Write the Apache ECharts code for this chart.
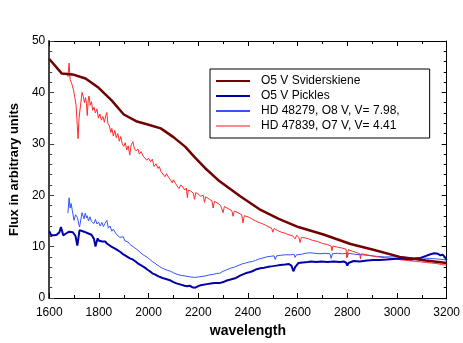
<!DOCTYPE html>
<html>
<head>
<meta charset="utf-8">
<script src="https://cdn.jsdelivr.net/npm/echarts@6/dist/echarts.min.js"></script>
<style>
  html, body { margin: 0; padding: 0; background: #fff; }
  #container { width: 463px; height: 343px; }
</style>
</head>
<body>
<div id="container"></div>
<script>
// O5 V Sviderskiene
const svidWave = [1600, 1650, 1694, 1746, 1799, 1852, 1900, 1950, 2000, 2049, 2100, 2148, 2187, 2227, 2286, 2366, 2445, 2524, 2603, 2707, 2813, 2905, 3011, 3117, 3200]
const svidFlux = [46.5, 43.7, 43.5, 42.7, 40.9, 38.4, 35.7, 34.4, 33.7, 33.0, 31.3, 29.4, 27.3, 25.3, 22.7, 19.9, 17.3, 15.4, 13.8, 12.3, 10.5, 9.4, 8.0, 7.3, 6.8]

// O5 V Pickles
const pickWave = [1600, 1608, 1615, 1621, 1630, 1641, 1647, 1652, 1656, 1660, 1666, 1672, 1680, 1688, 1695, 1700, 1706, 1710, 1713, 1717, 1722, 1730, 1740, 1746, 1755, 1762, 1770, 1775, 1780, 1786, 1790, 1795, 1799, 1806, 1812, 1818, 1825, 1832, 1840, 1850, 1858, 1865, 1875, 1885, 1895, 1905, 1915, 1925, 1935, 1945, 1955, 1965, 1975, 1985, 1996, 2005, 2015, 2025, 2040, 2056, 2070, 2089, 2100, 2115, 2130, 2145, 2155, 2165, 2175, 2188, 2200, 2210, 2221, 2235, 2250, 2265, 2286, 2300, 2315, 2330, 2352, 2370, 2390, 2405, 2418, 2435, 2450, 2465, 2484, 2500, 2515, 2530, 2550, 2565, 2575, 2583, 2590, 2603, 2620, 2640, 2655, 2675, 2695, 2720, 2745, 2770, 2786, 2795, 2800, 2805, 2825, 2850, 2880, 2905, 2930, 2960, 2985, 3011, 3040, 3060, 3077, 3095, 3117, 3135, 3150, 3165, 3175, 3185, 3192, 3200]
const pickFlux = [13.0, 12.2, 12.0, 12.2, 12.3, 12.8, 13.8, 13.0, 12.2, 11.9, 12.5, 12.3, 12.9, 13.1, 12.8, 12.8, 12.0, 11.0, 10.2, 11.5, 13.2, 13.0, 12.9, 12.8, 12.6, 12.7, 12.3, 12.5, 11.5, 10.0, 10.8, 11.6, 11.2, 11.3, 11.0, 11.2, 11.0, 10.6, 10.4, 10.0, 9.8, 9.6, 9.3, 9.0, 8.6, 8.3, 8.0, 7.7, 7.5, 7.2, 6.8, 6.5, 6.2, 5.9, 5.5, 5.2, 4.8, 4.6, 4.2, 3.9, 3.7, 3.4, 3.1, 2.8, 2.6, 2.4, 2.3, 2.4, 2.1, 2.0, 2.3, 2.5, 2.6, 2.7, 2.8, 2.9, 2.9, 3.1, 3.4, 3.6, 3.9, 4.4, 4.8, 5.0, 5.2, 5.6, 5.8, 5.9, 6.1, 6.2, 6.3, 6.4, 6.5, 6.6, 6.3, 5.2, 6.0, 6.8, 6.9, 7.0, 7.1, 7.0, 7.1, 7.0, 7.1, 7.0, 7.1, 6.9, 6.3, 6.8, 7.2, 7.1, 7.3, 7.4, 7.4, 7.5, 7.6, 7.7, 7.6, 7.5, 7.7, 7.8, 8.2, 8.5, 8.7, 8.6, 8.3, 8.4, 8.0, 7.4]

// HD 48279, O8 V
const hd48Wave = [1675, 1680, 1684, 1688, 1693, 1700, 1706, 1713, 1718, 1722, 1727, 1732, 1736, 1740, 1745, 1750, 1753, 1758, 1764, 1770, 1775, 1780, 1786, 1792, 1799, 1805, 1812, 1818, 1824, 1832, 1838, 1845, 1852, 1858, 1865, 1872, 1878, 1884, 1891, 1898, 1905, 1912, 1917, 1925, 1932, 1940, 1948, 1957, 1965, 1975, 1985, 1995, 2005, 2015, 2025, 2035, 2045, 2055, 2065, 2075, 2089, 2100, 2115, 2130, 2145, 2155, 2170, 2185, 2200, 2215, 2230, 2245, 2260, 2275, 2286, 2300, 2315, 2330, 2345, 2360, 2375, 2390, 2405, 2418, 2430, 2445, 2460, 2475, 2490, 2505, 2510, 2515, 2530, 2550, 2570, 2585, 2590, 2595, 2616, 2630, 2650, 2670, 2690, 2710, 2730, 2735, 2740, 2760, 2780, 2795, 2800, 2805, 2830, 2860, 2880, 2900, 2920, 2950, 2980, 3011, 3040, 3070, 3100, 3130, 3160, 3200]
const hd48Flux = [16.5, 19.5, 17.5, 18.4, 17.0, 15.1, 16.2, 15.7, 14.6, 13.8, 15.2, 16.6, 16.7, 15.4, 16.5, 15.6, 16.0, 15.0, 15.8, 14.9, 15.1, 14.5, 15.3, 14.4, 14.8, 14.0, 14.7, 13.9, 14.5, 15.1, 13.6, 14.0, 13.0, 13.4, 12.8, 12.3, 12.6, 11.8, 11.6, 11.9, 11.1, 11.3, 10.9, 10.4, 10.6, 9.9, 9.8, 9.3, 9.0, 8.5, 8.2, 7.9, 7.5, 7.1, 6.8, 6.4, 6.1, 5.8, 5.6, 5.4, 5.2, 4.9, 4.6, 4.4, 4.3, 4.2, 4.1, 4.0, 4.1, 4.2, 4.3, 4.5, 4.6, 4.8, 4.8, 5.2, 5.5, 5.8, 6.0, 6.3, 6.6, 6.8, 7.0, 7.1, 7.3, 7.6, 7.8, 8.0, 8.1, 8.2, 7.5, 8.2, 8.3, 8.4, 8.4, 8.5, 7.9, 8.4, 8.5, 8.7, 8.8, 8.7, 8.6, 8.7, 8.6, 7.7, 8.6, 8.7, 8.6, 8.7, 8.0, 8.7, 8.5, 8.4, 8.3, 8.2, 8.1, 8.0, 8.0, 8.0, 7.9, 7.8, 7.8, 7.7, 7.6, 7.4]

// HD 47839, O7 V
const hd47Wave = [1675, 1680, 1684, 1690, 1697, 1703, 1708, 1713, 1716, 1720, 1726, 1732, 1737, 1742, 1746, 1750, 1753, 1757, 1760, 1765, 1770, 1775, 1780, 1786, 1792, 1798, 1804, 1810, 1816, 1822, 1828, 1832, 1836, 1842, 1848, 1852, 1858, 1864, 1870, 1876, 1882, 1888, 1894, 1900, 1906, 1912, 1918, 1924, 1930, 1937, 1943, 1950, 1957, 1963, 1970, 1978, 1985, 1993, 2000, 2008, 2015, 2022, 2030, 2038, 2043, 2050, 2058, 2066, 2072, 2080, 2088, 2095, 2100, 2108, 2115, 2122, 2130, 2138, 2145, 2152, 2156, 2160, 2170, 2180, 2185, 2190, 2200, 2210, 2220, 2225, 2230, 2245, 2255, 2260, 2265, 2280, 2290, 2300, 2305, 2320, 2335, 2340, 2345, 2360, 2375, 2380, 2385, 2400, 2415, 2430, 2445, 2460, 2470, 2480, 2495, 2500, 2505, 2520, 2535, 2550, 2565, 2580, 2590, 2596, 2605, 2610, 2615, 2630, 2645, 2660, 2680, 2700, 2720, 2735, 2738, 2742, 2760, 2780, 2795, 2798, 2801, 2804, 2820, 2840, 2850, 2853, 2856, 2880, 2900, 2920, 2940, 2960, 2980, 3000, 3020, 3040, 3060, 3080, 3100, 3120, 3140, 3160, 3180, 3200]
const hd47Flux = [43.0, 45.7, 42.5, 41.8, 40.6, 39.0, 37.5, 33.5, 31.0, 35.0, 37.5, 40.0, 39.2, 38.0, 39.0, 37.8, 35.5, 38.5, 39.3, 37.5, 38.2, 36.5, 37.1, 36.0, 36.8, 35.0, 35.8, 34.6, 35.3, 34.2, 35.6, 36.1, 34.0, 33.5, 32.2, 33.0, 31.5, 32.6, 31.2, 32.0, 30.5, 31.4, 30.0, 29.5, 30.2, 28.8, 29.6, 27.8, 29.8, 30.4, 29.0, 28.6, 29.0, 28.0, 28.5, 27.6, 27.9, 26.8, 27.2, 26.5, 27.0, 25.6, 26.1, 25.2, 25.6, 24.6, 24.9, 23.6, 24.2, 23.5, 23.0, 22.4, 23.0, 22.3, 22.6, 21.3, 22.0, 21.6, 21.0, 21.4, 19.5, 21.0, 20.8, 20.4, 19.2, 20.5, 20.2, 19.8, 20.0, 18.6, 19.7, 19.2, 18.9, 17.5, 18.8, 18.4, 18.0, 16.6, 17.8, 17.4, 17.0, 15.9, 16.9, 16.6, 16.2, 14.6, 16.0, 15.8, 15.4, 15.0, 14.7, 14.4, 14.2, 13.9, 13.6, 12.8, 13.5, 13.1, 12.8, 12.6, 12.3, 12.1, 11.5, 12.2, 11.8, 10.8, 11.8, 11.7, 11.5, 11.2, 11.0, 10.6, 10.4, 10.1, 9.2, 10.1, 9.9, 9.7, 9.5, 7.8, 7.6, 9.4, 9.1, 8.8, 8.6, 7.6, 8.6, 8.4, 8.2, 8.0, 7.9, 7.8, 7.7, 7.6, 7.4, 7.3, 7.2, 7.1, 7.0, 6.9, 6.8, 6.7, 6.5, 6.4]

const xTicks = [1600, 3200, 200]
const yTicks = [0, 50, 10]

const font = "'Liberation Sans', Arial, sans-serif"

function pairs(w, f) {
    return w.map((x, i) => [x, f[i]])
}

let mychart = echarts.init(document.getElementById('container'))

const xBase = {
    type: 'value',
    min: xTicks[0],
    max: xTicks[1],
    interval: xTicks[2],
    axisLine: { show: true, onZero: false, lineStyle: { color: '#000', width: 1 } },
    axisTick: { show: true, inside: true, length: 5, lineStyle: { color: '#000' } },
    minorTick: { show: true, splitNumber: 2, length: 3, lineStyle: { color: '#000' } },
    splitLine: { show: false }
}
const yBase = {
    type: 'value',
    min: yTicks[0],
    max: yTicks[1],
    interval: yTicks[2],
    axisLine: { show: true, onZero: false, lineStyle: { color: '#000', width: 1 } },
    axisTick: { show: true, inside: true, length: 5, lineStyle: { color: '#000' } },
    minorTick: { show: true, splitNumber: 5, length: 3, lineStyle: { color: '#000' } },
    splitLine: { show: false }
}

let options = {
    animation: false,
    backgroundColor: '#fff',
    textStyle: { fontFamily: font },
    grid: { left: 43, right: 15, top: 41, bottom: 41 },
    legend: {
        orient: 'vertical',
        left: 210,
        top: 69,
        padding: [5, 30, 5, 6],
        itemGap: 1,
        itemWidth: 34,
        itemHeight: 2,
        icon: 'rect',
        borderColor: '#000',
        borderWidth: 1,
        backgroundColor: '#fff',
        textStyle: { fontFamily: font, fontSize: 12, color: '#000', padding: [0, 0, 0, 6], lineHeight: 14 },
        data: ['O5 V Sviderskiene', 'O5 V Pickles', 'HD 48279, O8 V, V= 7.98,', 'HD 47839, O7 V, V= 4.41']
    },
    xAxis: [
        Object.assign({}, xBase, {
            position: 'bottom',
            name: 'wavelength',
            nameLocation: 'middle',
            nameGap: 26,
            nameTextStyle: { fontFamily: font, fontSize: 14, fontWeight: 'bold', color: '#000' },
            axisLabel: { fontFamily: font, fontSize: 12, color: '#000', margin: 9, formatter: v => String(v) }
        }),
        Object.assign({}, xBase, { position: 'top', axisLabel: { show: false } })
    ],
    yAxis: [
        Object.assign({}, yBase, {
            position: 'left',
            name: 'Flux in arbitrary units',
            nameLocation: 'middle',
            nameGap: 24,
            nameTextStyle: { fontFamily: font, fontSize: 13, fontWeight: 'bold', color: '#000' },
            axisLine: { show: true, onZero: false, lineStyle: { color: '#444', width: 2 } },
            axisTick: { show: true, inside: true, length: 5, lineStyle: { color: '#444' } },
            minorTick: { show: true, splitNumber: 5, length: 3, lineStyle: { color: '#444' } },
            axisLabel: { fontFamily: font, fontSize: 12, color: '#000', margin: 4 }
        }),
        Object.assign({}, yBase, { position: 'right', axisLabel: { show: false } })
    ],
    series: [
        {
            name: 'O5 V Sviderskiene',
            type: 'line',
            data: pairs(svidWave, svidFlux),
            symbol: 'none',
            lineStyle: { color: '#720000', width: 2.5 },
            itemStyle: { color: '#720000' },
            z: 5
        },
        {
            name: 'O5 V Pickles',
            type: 'line',
            data: pairs(pickWave, pickFlux),
            symbol: 'none',
            lineStyle: { color: '#0000a8', width: 2 },
            itemStyle: { color: '#0000a8' },
            z: 4
        },
        {
            name: 'HD 48279, O8 V, V= 7.98,',
            type: 'line',
            data: pairs(hd48Wave, hd48Flux),
            symbol: 'none',
            lineStyle: { color: '#3355ff', width: 1 },
            itemStyle: { color: '#3355ff' },
            z: 3
        },
        {
            name: 'HD 47839, O7 V, V= 4.41',
            type: 'line',
            data: pairs(hd47Wave, hd47Flux),
            symbol: 'none',
            lineStyle: { color: '#ff2a2a', width: 1 },
            itemStyle: { color: '#ff8888' },
            z: 3
        }
    ]
}

mychart.setOption(options)

window.addEventListener('resize', () => { mychart.resize() })
</script>
</body>
</html>
